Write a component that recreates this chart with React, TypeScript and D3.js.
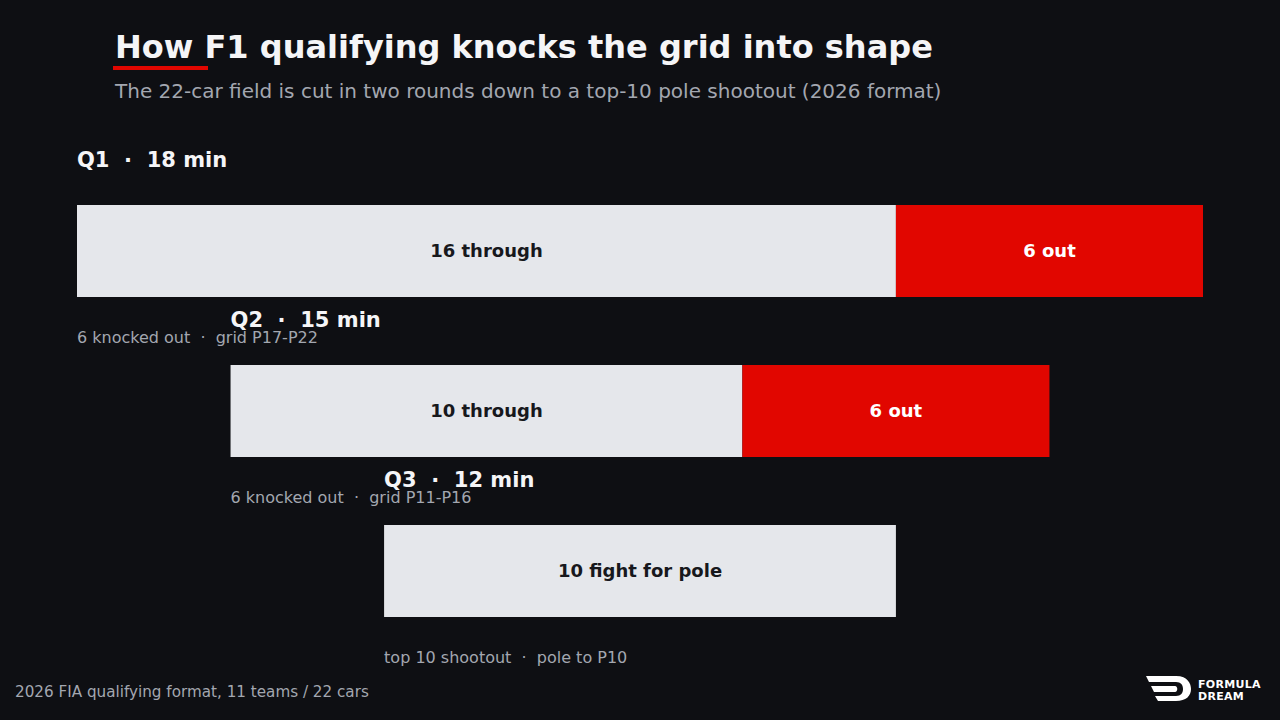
import React from "react";
import * as d3 from "d3";

const stages = ["Q1", "Q2", "Q3"];
const durations = ["18 min", "15 min", "12 min"];
const startPos = [0, 3, 6];
const throughCounts = [16, 10, 10];
const outCounts = [6, 6, 0];
const throughLabels = ["16 through", "10 through", "10 fight for pole"];
const outLabels = ["6 out", "6 out", ""];
const notes = ["6 knocked out  ·  grid P17-P22", "6 knocked out  ·  grid P11-P16", "top 10 shootout  ·  pole to P10"];
const totalCars = 22;

const W = 1280;
const H = 720;
const BG = "#0e0f13";
const LIGHT = "#e5e7eb";
const RED = "#e10600";
const GRAY = "#a3a7b0";
const FONT = "DejaVu Sans, sans-serif";

export default function App() {
  const x = d3.scaleLinear().domain([0, totalCars]).range([77, 1203]);
  const y = d3.scaleBand<string>().domain(stages).range([205, 617]).paddingInner(0.425).paddingOuter(0);
  const bw = y.bandwidth();

  return (
    <svg width={W} height={H} style={{ position: "absolute", left: 0, top: 0, background: BG }} fontFamily={FONT}>
      <rect x={0} y={0} width={W} height={H} fill={BG} />
      <text x={115} y={58} fill="#f5f5f7" fontSize={32} fontWeight="bold">How F1 qualifying knocks the grid into shape</text>
      <rect x={113} y={66} width={95} height={4} fill={RED} />
      <text x={115} y={98} fill={GRAY} fontSize={20}>The 22-car field is cut in two rounds down to a top-10 pole shootout (2026 format)</text>

      {stages.map((s, i) => {
        const y0 = y(s)!;
        const x0 = x(startPos[i]);
        const x1 = x(startPos[i] + throughCounts[i]);
        const x2 = x(startPos[i] + throughCounts[i] + outCounts[i]);
        return (
          <g key={s}>
            <text x={x0} y={y0 - 38} fill="#f5f5f7" fontSize={21} fontWeight="bold" style={{ whiteSpace: "pre" }}>
              {`${s}  ·  ${durations[i]}`}
            </text>
            <rect x={x0} y={y0} width={x1 - x0} height={bw} fill={LIGHT} />
            <text x={(x0 + x1) / 2} y={y0 + bw / 2} dy="0.35em" textAnchor="middle" fill="#17181c" fontSize={18} fontWeight="bold">
              {throughLabels[i]}
            </text>
            {outCounts[i] > 0 && (
              <g>
                <rect x={x1} y={y0} width={x2 - x1} height={bw} fill={RED} />
                <text x={(x1 + x2) / 2} y={y0 + bw / 2} dy="0.35em" textAnchor="middle" fill="#ffffff" fontSize={18} fontWeight="bold">
                  {outLabels[i]}
                </text>
              </g>
            )}
            <text x={x0} y={y0 + bw + 46} fill={GRAY} fontSize={16} style={{ whiteSpace: "pre" }}>
              {notes[i]}
            </text>
          </g>
        );
      })}

      <text x={15} y={697} fill={GRAY} fontSize={15.2}>2026 FIA qualifying format, 11 teams / 22 cars</text>

      <g transform="translate(1146,676)">
        <path d="M0,0 L30,0 C42,0 45,8 45,13 C45,20 40,25 30,25 L12,25 L9,20 L30,20 C35,20 37,17 37,13 C37,9 35,6 30,6 L3,6 Z" fill="#ffffff" />
        <path d="M5,10 L29,10 C32,10 32,16 29,16 L8,16 Z" fill="#ffffff" />
        <text x={52} y={11.5} fill="#ffffff" fontSize={11} fontWeight="bold" letterSpacing={0.3}>FORMULA</text>
        <text x={52} y={23.5} fill="#ffffff" fontSize={11} fontWeight="bold" letterSpacing={0.3}>DREAM</text>
      </g>
    </svg>
  );
}
